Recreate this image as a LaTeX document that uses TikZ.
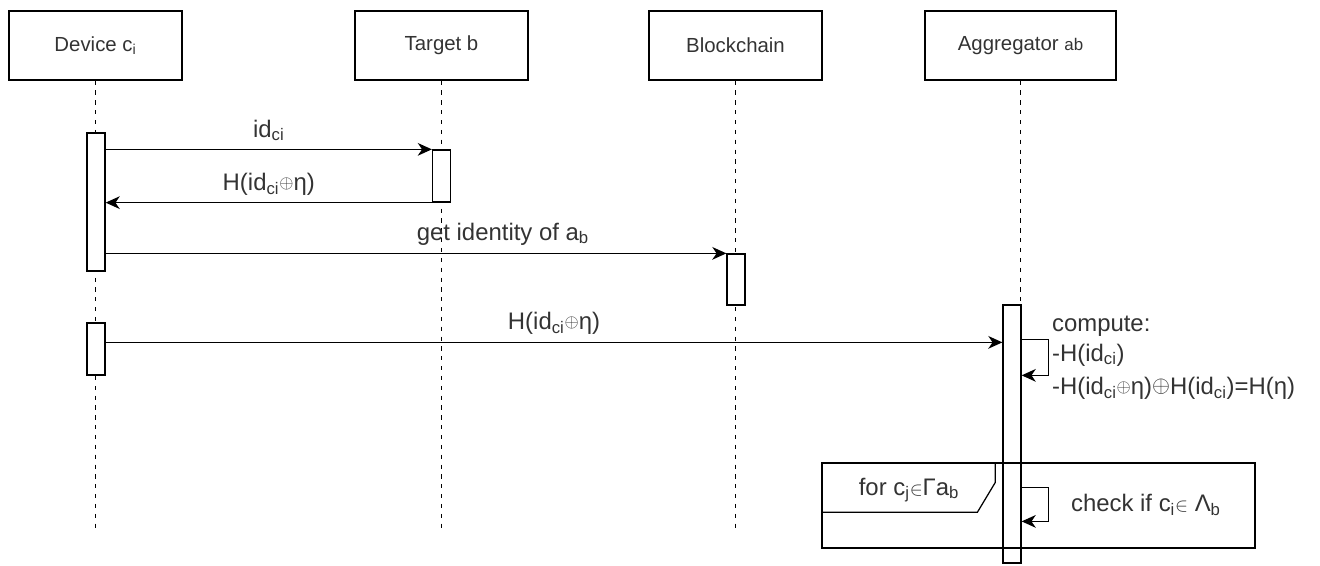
\documentclass[tikz,border=0pt]{standalone}
\usepackage{fontspec}
\setmainfont{Liberation Sans}
\usepackage{graphicx}
\usetikzlibrary{arrows.meta, positioning, calc}

\newcommand{\xor}[1][0.75]{\raisebox{0.2ex}{\scalebox{#1}{$\oplus$}}}
\newcommand{\elem}{\scalebox{0.8}{$\in$}}

\begin{document}
\begin{tikzpicture}[x=0.025cm, y=-0.025cm,
    actor/.style={rectangle, draw, line width=0.9pt, minimum width=4.325cm, minimum height=1.725cm, font=\fontsize{14.5}{17}\selectfont, text=black!80},
    lifeline/.style={line width=0.8pt, dash pattern=on 3pt off 4pt},
    act/.style={rectangle, draw, line width=0.9pt, fill=white, minimum width=0.45cm, inner sep=0pt},
    msg/.style={-{Stealth[length=10pt, width=9pt, inset=3pt]}, line width=0.9pt},
    lbl/.style={font=\fontsize{17}{21}\selectfont, text=black!80, inner sep=2pt}
]
\useasboundingbox (0,0) rectangle (1320,565);

% Participants
\node[actor] (dev) at (95.5,45.5) {Device c\textsubscript{i}};
\node[actor] (tgt) at (441.5,45.5) {Target b};
\node[actor] (bc) at (735.5,45.5) {Blockchain};
\node[actor, minimum width=4.775cm] (agg) at (1020.5,45.5) {Aggregator {\fontsize{12}{14}\selectfont ab}};

% Lifelines
\coordinate (end) at (0,530);
\foreach \p in {dev, tgt, bc, agg}
  \draw[lifeline] (\p.south) -- (\p.south |- end);

% Activations
\node[act, minimum height=3.45cm] (dev1) at (96,202) {};
\node[act, minimum height=1.3cm] (tgt1) at (441.5,176) {};
\node[act, minimum height=1.275cm] (bc1) at (736,279.5) {};
\node[act, minimum height=1.3cm] (dev2) at (96,349) {};
\node[act, minimum height=6.45cm] (agg1) at (1012,434) {};

% Messages
\draw[msg] (dev1.east |- tgt1.north) -- (tgt1.north west) node[lbl, midway, above=3.5pt] {id\textsubscript{ci}};
\draw[msg] (tgt1.south west) -- (dev1.east |- tgt1.south) node[lbl, midway, above=2.5pt] {H(id\textsubscript{ci}\xor η)};
\draw[msg] (dev1.east |- bc1.north) -- (bc1.north west) node[lbl, pos=0.64, above=3.5pt] {get identity of a\textsubscript{b}};
\draw[msg] ([yshift=-0.5cm]dev2.north east) coordinate (m4) -- (m4 -| agg1.west) node[lbl, midway, above=3pt] {H(id\textsubscript{ci}\xor η)};

% Self calls
\draw[msg] ([yshift=-0.875cm]agg1.north east) -- ++(27,0) |- ([yshift=-1.775cm]agg1.north east);
\node[lbl, anchor=north west, align=left] (comp) at (1049,313) {compute:\\-H(id\textsubscript{ci})\\[3pt]-H(id\textsubscript{ci}\xor η)\xor[0.95]H(id\textsubscript{ci})=H(η)};

% Loop
\node[draw, line width=0.9pt, minimum width=10.825cm, minimum height=2.125cm] (loop) at (1038.5,505.5) {};
\draw[line width=0.9pt] (loop.north west) ++(0,50) -- ++(156,0) -- ++(18,-30) -- ++(0,-20);
\node[lbl] (cond) at (909,490) {for c\textsubscript{j}\elem Γa\textsubscript{b}};
\draw[msg] ([yshift=-4.575cm]agg1.north east) -- ++(27,0) |- ([yshift=-5.425cm]agg1.north east);
\node[lbl, anchor=west] (chk) at (1068,505) {check if c\textsubscript{i}\elem\ Λ\textsubscript{b}};

\end{tikzpicture}
\end{document}
